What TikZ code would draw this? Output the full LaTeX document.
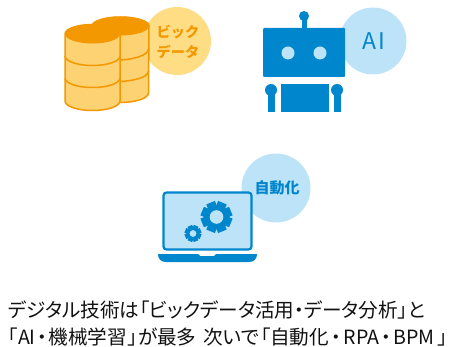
\documentclass[tikz,border=0pt]{standalone}
\usepackage{fontspec}
\setmainfont{Noto Sans CJK JP}[RawFeature=+palt]
\newfontfamily\taglabel{Noto Sans CJK JP}
\definecolor{orangeline}{HTML}{F39800}
\definecolor{orangefill}{HTML}{FDD273}
\definecolor{orangecirc}{HTML}{FFDD85}
\definecolor{bluemain}{HTML}{0086CC}
\definecolor{bluelight}{HTML}{BDE3F9}
\definecolor{bodytext}{HTML}{111111}
\tikzset{
  cyl/.style={draw=orangeline,line width=1.5pt,fill=orangefill,line join=round},
  ringline/.style={draw=orangeline,line width=1.5pt},
  caption/.style={anchor=base west,inner sep=0pt,font=\fontsize{19.6}{22}\selectfont,text=bodytext},
  tag/.style={inner sep=0pt,align=center},
}
\newcommand{\gearshape}[4]{%
  \fill[bluemain] (#1,#2) circle[radius=#3*0.76];
  \foreach \a in {0,45,...,315}{
    \fill[bluemain,rotate around={\a+22.5:(#1,#2)}] (#1-#3*0.3,#2-#3) rectangle (#1+#3*0.3,#2-#3*0.6);
  }
  \fill[bluelight] (#1,#2) circle[radius=#4];
}
\begin{document}
\begin{tikzpicture}[x=1pt,y=-1pt]
\useasboundingbox (0,0) rectangle (449,347);
% big data
\fill[orangecirc] (177,41) circle[radius=34];
\node[tag,text=orangeline,font=\taglabel\fontsize{14.2}{20}\selectfont\bfseries] (bigdata) at (178,42) {ビック\\データ};
% back cylinder
\path[cyl] (92,26) arc[start angle=180,end angle=360,x radius=28.5,y radius=9] -- (148.5,93) arc[start angle=0,end angle=180,x radius=28.5,y radius=9.5] -- cycle;
\draw[ringline] (120,60) .. controls (132,59.5) and (148,56) .. (148.5,49);
\draw[ringline] (120,81.5) .. controls (132,81) and (148,78) .. (148.5,71);
% back top
\fill[orangeline] (92,26) arc[start angle=180,end angle=360,x radius=28.5,y radius=9.5] arc[start angle=0,end angle=180,x radius=28.5,y radius=9.5] -- cycle;
% front cylinder
\path[cyl] (65,34) arc[start angle=180,end angle=360,x radius=27.5,y radius=9.5] -- (120,101) arc[start angle=0,end angle=180,x radius=27.5,y radius=9.5] -- cycle;
\draw[ringline] (65,56) arc[start angle=180,end angle=0,x radius=27.5,y radius=9.5];
\draw[ringline] (65,78) arc[start angle=180,end angle=0,x radius=27.5,y radius=9.5];
\fill[orangeline] (65,34) arc[start angle=180,end angle=360,x radius=27.5,y radius=9.5] arc[start angle=0,end angle=180,x radius=27.5,y radius=9.5] -- cycle;
% AI robot
\fill[bluelight] (373,41) circle[radius=33.5];
\node[tag,text=bluemain,font=\fontsize{23}{25}\selectfont] (ai) at (374,41.5) {A\kern2.5pt I};
\fill[bluemain,rounded corners=1pt] (263,28) rectangle (345,77);
\fill[bluemain] (304,16) circle[radius=5];
\fill[bluemain] (301.5,16) rectangle (306.5,28);
\fill[bluelight] (288,53) circle[radius=6.5];
\fill[bluelight] (320,53) circle[radius=6.5];
\fill[bluemain] (281,84) rectangle (329,112);
\fill[bluemain] (271,90) circle[radius=6];
\fill[bluemain] (267.5,90) rectangle (275,112);
\fill[bluemain] (337,90) circle[radius=6];
\fill[bluemain] (333.5,90) rectangle (341,112);
% automation
\fill[bluelight] (276,188) circle[radius=34.5];
\node[tag,text=bluemain,font=\taglabel\fontsize{15}{17}\selectfont\bfseries] (auto) at (277,188) {自動化};
\draw[bluemain,line width=2.2pt,fill=bluelight,rounded corners=3pt] (163.5,192.5) rectangle (251.5,249.5);
\fill[bluemain] (158,254) -- (198,254) -- (200,256) -- (214,256) -- (216,254) -- (257,254) .. controls (257,259) and (254,262) .. (249,262) -- (166,262) .. controls (161,262) and (158,259) .. (158,254) -- cycle;
\gearshape{216.5}{217}{15.5}{6.8}
\gearshape{193}{233.5}{8.3}{3.4}
% caption
\node[caption] (line1) at (8,317) {デジタル技術は「ビックデータ活用・データ分析」と};
\node[caption] (line2) at (8,344) {「AI\kern1.5pt・\kern1.5pt機械学習\kern1.5pt」が最多 \kern2.5pt次いで\kern1.5pt「自動化\kern2.5pt・\kern2.5ptRPA\kern2pt・\kern2ptBPM\kern3pt」};
\end{tikzpicture}
\end{document}
